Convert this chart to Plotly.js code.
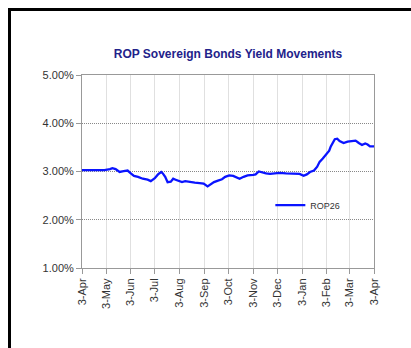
<!DOCTYPE html>
<html>
<head>
<meta charset="utf-8">
<script src="https://cdn.plot.ly/plotly-3.0.1.min.js"></script>
<style>
  html, body { margin: 0; padding: 0; background: #fff; overflow: hidden; }
  #frame { position: absolute; left: 8px; top: 8px; width: 420px; height: 400px; border: 3px solid #000; box-sizing: border-box; }
  #chart { position: absolute; left: 0; top: 0; width: 411px; height: 348px; }
</style>
</head>
<body>
<div id="chart"></div>
<div id="frame"></div>
<script>
const seriesName = "ROP26";
const dates = [
  "2016-04-03","2016-04-13","2016-04-25","2016-05-01","2016-05-08","2016-05-11","2016-05-15","2016-05-20","2016-05-25","2016-05-30",
  "2016-06-03","2016-06-07","2016-06-12","2016-06-18","2016-06-24","2016-06-28","2016-07-03","2016-07-07","2016-07-11","2016-07-13",
  "2016-07-16","2016-07-19","2016-07-23","2016-07-26","2016-07-29","2016-08-02","2016-08-06","2016-08-10","2016-08-16","2016-08-22",
  "2016-08-28","2016-09-02","2016-09-07","2016-09-11","2016-09-15","2016-09-20","2016-09-25","2016-09-29","2016-10-04","2016-10-09",
  "2016-10-14","2016-10-17","2016-10-22","2016-10-27","2016-11-03","2016-11-06","2016-11-10","2016-11-14","2016-11-19","2016-11-24",
  "2016-11-30","2016-12-06","2016-12-14","2016-12-21","2016-12-28","2016-12-31","2017-01-05","2017-01-09","2017-01-13","2017-01-18",
  "2017-01-22","2017-01-25","2017-01-29","2017-02-02","2017-02-06","2017-02-08","2017-02-11","2017-02-13","2017-02-16","2017-02-19",
  "2017-02-24","2017-03-01","2017-03-06","2017-03-11","2017-03-15","2017-03-19","2017-03-23","2017-03-26","2017-03-29","2017-04-03"
];
const yields = [
  3.03,3.03,3.04,3.03,3.05,3.07,3.05,2.99,3.01,3.02,
  2.96,2.91,2.89,2.85,2.83,2.80,2.86,2.94,2.99,2.96,
  2.89,2.78,2.79,2.85,2.83,2.80,2.78,2.80,2.78,2.77,
  2.76,2.75,2.69,2.73,2.78,2.81,2.84,2.89,2.92,2.91,
  2.87,2.85,2.89,2.92,2.93,2.94,3.00,2.98,2.96,2.95,
  2.96,2.97,2.96,2.96,2.95,2.95,2.91,2.94,2.99,3.02,
  3.10,3.20,3.27,3.36,3.43,3.52,3.62,3.67,3.68,3.63,
  3.59,3.62,3.63,3.64,3.59,3.55,3.58,3.56,3.52,3.52
];
const tickDates = ["2016-04-03","2016-05-03","2016-06-03","2016-07-03","2016-08-03","2016-09-03","2016-10-03","2016-11-03","2016-12-03","2017-01-03","2017-02-03","2017-03-03","2017-04-03"];
const tickLabels = ["3-Apr","3-May","3-Jun","3-Jul","3-Aug","3-Sep","3-Oct","3-Nov","3-Dec","3-Jan","3-Feb","3-Mar","3-Apr"];
const yTicks = [1, 2, 3, 4, 5];
const yTickLabels = ["1.00%","2.00%","3.00%","4.00%","5.00%"];

const trace = {
  x: dates, y: yields, type: "scatter", mode: "lines", name: seriesName,
  line: { color: "#0a14ff", width: 2.3 }
};

const layout = {
  width: 411, height: 348,
  margin: { l: 82, r: 37, t: 75, b: 80 },
  paper_bgcolor: "rgba(0,0,0,0)", plot_bgcolor: "#fff",
  font: { family: "Liberation Sans, Arial, sans-serif", size: 11, color: "#333" },
  title: {
    text: "<b>ROP Sovereign Bonds Yield Movements</b>",
    font: { family: "Liberation Sans, Arial, sans-serif", size: 12, color: "#22228a" },
    x: 0.5, xref: "paper", y: 1 - 54 / 348, yref: "container", yanchor: "middle"
  },
  xaxis: {
    type: "date", range: ["2016-04-03", "2017-04-03"],
    tickvals: tickDates, ticktext: tickLabels, tickangle: -90,
    ticks: "outside", ticklen: 5, tickcolor: "#999",
    showgrid: true, gridcolor: "#e0e0e0", gridwidth: 1,
    showline: true, linecolor: "#999", linewidth: 1, mirror: true,
    tickfont: { size: 11, color: "#333" }, zeroline: false
  },
  yaxis: {
    range: [1, 5], tickvals: yTicks, ticktext: yTickLabels,
    ticks: "outside", ticklen: 5, tickcolor: "#999",
    showgrid: true, gridcolor: "#888", gridwidth: 1, griddash: "1px,1px",
    showline: true, linecolor: "#999", linewidth: 1, mirror: true,
    tickfont: { size: 11, color: "#333" }, zeroline: false
  },
  showlegend: true,
  legend: {
    x: 0.645, y: 0.326, xanchor: "left", yanchor: "middle",
    itemwidth: 30,
    bgcolor: "rgba(0,0,0,0)", font: { size: 9, color: "#333" }
  }
};

Plotly.newPlot("chart", [trace], layout, { displayModeBar: false, staticPlot: true });
</script>
</body>
</html>
